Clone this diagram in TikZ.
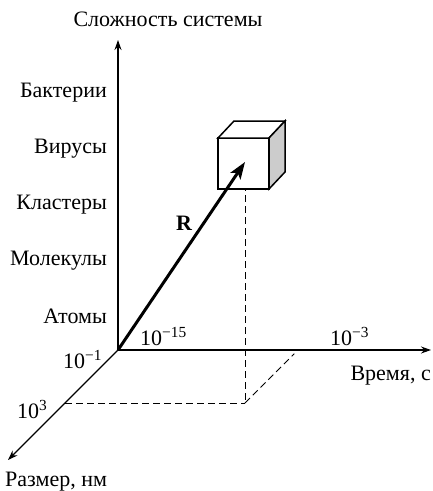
\documentclass[tikz,border=0pt]{standalone}
\usepackage{fontspec}
\setmainfont{Liberation Serif}
\usetikzlibrary{arrows.meta,calc}
\newcommand\pw[1]{\textsuperscript{#1}}
\begin{document}
\begin{tikzpicture}[x=1pt,y=-1pt,
  lbl/.style={inner sep=0pt,font=\fontsize{22}{24}\selectfont},
  axis/.style={line width=1.1pt,-{Stealth[length=10pt,width=7pt]}},
  dsh/.style={line width=1pt,dash pattern=on 7pt off 4pt},
  cube/.style={line width=1.5pt,line join=miter}]
\useasboundingbox (0,0) rectangle (433,491);
\coordinate (O) at (118,350);
\coordinate (Ytip) at (118,40);
\coordinate (Xtip) at (431,350);
\coordinate (Ztip) at (8,460);
\coordinate (P) at (245,162);
\coordinate (Pb) at (245,403);
\coordinate (Pz) at (65,403);
\coordinate (Px) at (298,350);
% dashed projections
\draw[dsh] (P) -- (Pb);
\draw[dsh] (Pz) -- (Pb);
\draw[dsh] (Pb) -- ($(Pb)!0.93!(Px)$);
% axes
\draw[axis] (O) -- (Ytip);
\draw[axis] (O) -- (Xtip);
\draw[axis] (O) -- (Ztip);
% cube
\draw[cube,fill=white] (218,138) rectangle (269,189);
\draw[cube,fill=white] (218,138) -- (234,121) -- (285,121) -- (269,138) -- cycle;
\draw[cube,fill=black!20] (269,138) -- (285,121) -- (285,172) -- (269,189) -- cycle;
% vector R
\draw[line width=3pt,-{Stealth[length=17pt,width=12pt,inset=4pt]}] (O) -- (P);
\node[lbl,font=\fontsize{22}{24}\selectfont\bfseries,anchor=base] (R) at (184,230) {R};
% labels
\node[lbl,anchor=base] (ttl) at (168,26) {Сложность системы};
\node[lbl,anchor=base east] (b1) at (107,97) {Бактерии};
\node[lbl,anchor=base east] (b2) at (107,153) {Вирусы};
\node[lbl,anchor=base east] (b3) at (107,209) {Кластеры};
\node[lbl,anchor=base east] (b4) at (107,265) {Молекулы};
\node[lbl,anchor=base east] (b5) at (107,323) {Атомы};
\node[lbl,anchor=base west] (t1) at (140,345) {10\pw{−15}};
\node[lbl,anchor=base west] (t2) at (330,345) {10\pw{−3}};
\node[lbl,anchor=base west] (s1) at (63,368) {10\pw{−1}};
\node[lbl,anchor=base west] (s2) at (17,418) {10\pw{3}};
\node[lbl,anchor=base east] (xl) at (431,380) {Время, с};
\node[lbl,anchor=base west] (zl) at (5,486) {Размер, нм};
\end{tikzpicture}
\end{document}
